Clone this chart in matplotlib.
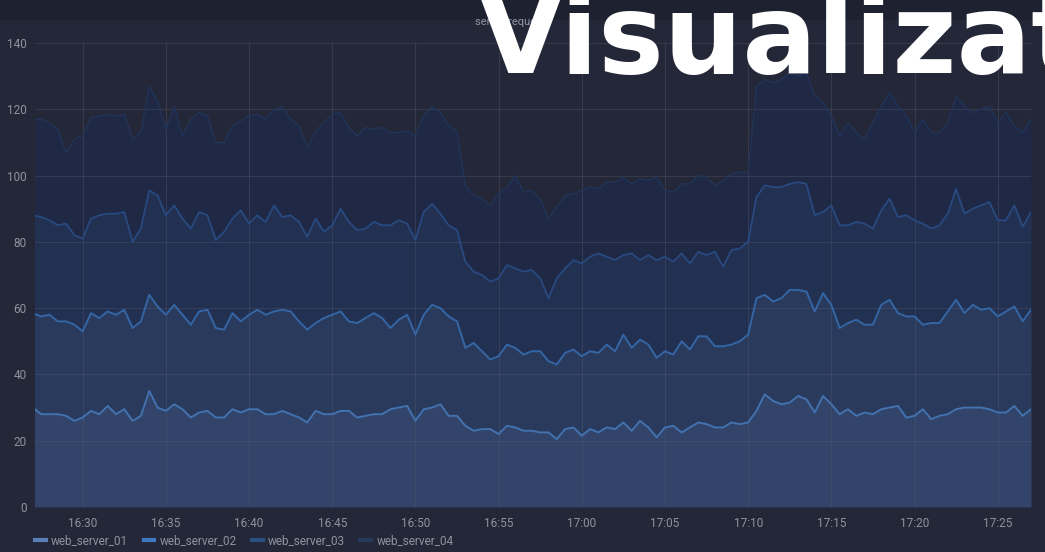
import numpy as np
import pandas as pd
import matplotlib
matplotlib.use("Agg")
import matplotlib.pyplot as plt
import matplotlib.dates as mdates
from matplotlib.lines import Line2D
from matplotlib.patches import Rectangle

# ---------------- data ----------------
series_names = ["web_server_01", "web_server_02", "web_server_03", "web_server_04"]
start_time = "2024-01-01 16:27:00"
sample_step = "30s"

web_server_01 = [
    30, 28, 28, 28, 27.5, 26, 27, 29, 28, 30.5, 28, 29.5, 26, 27.5, 35, 30, 29, 31, 29.5, 27,
    28.5, 29, 27, 27, 29.5, 28.5, 29.5, 29.5, 28, 28, 29, 28, 27, 25.5, 29, 28, 28, 29, 29, 27,
    27.5, 28, 28, 29.5, 30, 30.5, 26, 29.5, 30, 31, 27.5, 27.5, 24.5, 23, 23.5, 23.5, 22, 24.5, 24, 23,
    23,
    22.5, 22.5, 20.5, 23.5, 24, 21.5, 23.5, 22.5, 24, 23.5, 25.5, 23, 26, 24, 21, 24, 24.5, 22.5, 24, 25.5,
    25, 24, 24, 25.5, 25, 25.5, 29, 34, 32, 31, 31.5, 33.5, 32.5, 28.5, 33.5, 31, 28, 29.5, 27.5, 28.5,
    28, 29.5, 30, 30.5, 27, 27.5, 29.5, 26.5, 27.5, 28, 29.5, 30, 30, 30, 29.5, 28.5, 28.5, 30.5, 27.5, 29.5,
]
web_server_02 = [
    28.5, 29.5, 30, 28, 28.5, 29, 26, 29.5, 29, 28.5, 30, 30, 28, 28.5, 29, 30.5, 29, 30, 28.5, 28,
    30.5, 30.5, 27, 26.5, 29, 27.5, 28.5, 30, 30, 31, 30.5, 31, 29, 28, 26.5, 29, 30, 30, 27, 28.5,
    29.5, 30.5, 29, 24.5, 26.5, 27.5, 26, 28.5, 31, 29, 30, 28.5, 23.5, 26.5, 23.5, 21, 23.5, 24.5, 24, 23,
    24,
    24.5, 21.5, 22.5, 23, 23.5, 24, 23.5, 24, 25, 23.5, 26.5, 25, 24.5, 25, 24, 23, 21.5, 27.5, 23.5, 26,
    26.5, 24.5, 24.5, 23.5, 25, 26.5, 34, 30, 30, 32, 34, 32, 32.5, 30.5, 31, 30, 26, 26, 29, 26.5,
    27, 31.5, 32.5, 28, 30.5, 30, 25.5, 29, 28, 31, 33, 28.5, 31, 29.5, 30.5, 29, 30.5, 30, 28.5, 30,
]
web_server_03 = [
    29.5, 30, 28.5, 29, 29.5, 27, 28, 28.5, 31, 29.5, 30.5, 29.5, 26, 28, 31.5, 33.5, 30, 30, 29, 29,
    30, 28.5, 26.5, 29.5, 28.5, 33.5, 27.5, 28.5, 28, 32, 28, 29, 30, 28, 31.5, 26, 27, 31, 30, 28,
    27, 27.5, 28, 31, 30, 27.5, 28.5, 31, 30.5, 28.5, 27.5, 27.5, 26, 21.5, 23, 23.5, 23.5, 24, 24, 25,
    24.5,
    22, 19, 26, 25.5, 27, 28, 28.5, 30, 26.5, 27.5, 24, 28.5, 24, 27, 29.5, 28.5, 28, 26.5, 26, 25.5,
    24.5, 28.5, 24, 28.5, 28, 28, 30.5, 33, 34.5, 33.5, 32, 32.5, 32.5, 29, 24.5, 30, 31, 29.5, 29.5, 30.5,
    29, 28.5, 30.5, 29, 30.5, 29, 30.5, 28.5, 29.5, 29.5, 33.5, 30, 29, 31.5, 32, 29, 27.5, 30.5, 28.5, 29.5,
]
web_server_04 = [
    29, 29.5, 29.5, 29, 21.5, 29, 31, 30.5, 30, 30, 29.5, 29.5, 31, 29, 31.5, 28.5, 26, 30, 25, 33,
    30, 30, 29.5, 27, 28, 27, 32.5, 30.5, 31, 29, 33.5, 29, 29, 27, 26.5, 33, 33.5, 29, 28.5, 28.5,
    30.5, 28, 29.5, 28, 26.5, 28, 31.5, 29, 29.5, 30.5, 30, 30, 23, 23, 23, 23, 25.5, 23.5, 28, 24,
    24,
    24, 24, 21.5, 22, 20, 22, 21, 19.5, 22.5, 23.5, 23.5, 21, 24.5, 22.5, 25, 20, 21, 21, 24, 23,
    23.5, 20, 26, 23, 23, 21, 33.5, 32, 31.5, 32.5, 33.5, 32, 33.5, 36, 33, 27, 27, 31, 27, 25.5,
    32, 31.5, 32, 33.5, 30, 26.5, 31.5, 29, 28, 27.5, 28, 32.5, 29, 29, 29, 29.5, 32.5, 24, 28.5, 28,
]

y_ticks = [0, 20, 40, 60, 80, 100, 120, 140]
panel_title = "server requests"
overlay_text = "Visualizat"

# ---------------- style ----------------
fig_bg = "#242737"
header_bg = "#1e2130"
fill_colors = ["#33446a", "#2a3a5c", "#223052", "#1f2946"]
line_colors = ["#4272b0", "#3466a6", "#284a80", "#203458"]
line_widths = [1.4, 1.4, 1.3, 1.0]
legend_colors = ["#5a7fb6", "#3f78c0", "#2b4f80", "#27395c"]
text_color = "#8e93a0"
grid_color = "#5a6070"

plt.rcParams["font.family"] = ["Roboto", "DejaVu Sans"]

W, H = 1045, 552
fig = plt.figure(figsize=(W / 100, H / 100), dpi=100)
fig.patch.set_facecolor(fig_bg)

# darker header strip
fig.patches.append(Rectangle((0, 1 - 20 / H), 1, 20 / H, transform=fig.transFigure,
                             facecolor=header_bg, edgecolor="none", zorder=0))

left, right = 35 / W, 1031 / W
bottom, top = 1 - 507 / H, 1 - 43 / H
ax = fig.add_axes([left, bottom, right - left, top - bottom])
ax.set_facecolor(fig_bg)

times = pd.date_range(start_time, periods=len(web_server_01), freq=sample_step)
data = np.vstack([web_server_01, web_server_02, web_server_03, web_server_04])
stacked = np.cumsum(data, axis=0)

lower = np.zeros(len(times))
for k in range(4):
    ax.fill_between(times, lower, stacked[k], color=fill_colors[k], lw=0, zorder=1 + k * 0.01)
    lower = stacked[k]
for k in range(4):
    ax.plot(times, stacked[k], color=line_colors[k], lw=line_widths[k], zorder=3)

ax.set_ylim(0, 140)
ax.set_yticks(y_ticks)
ax.set_xlim(pd.Timestamp("2024-01-01 16:27:08"), pd.Timestamp("2024-01-01 17:27:00"))
ax.xaxis.set_major_locator(mdates.MinuteLocator(byminute=range(0, 60, 5)))
ax.xaxis.set_major_formatter(mdates.DateFormatter("%H:%M"))

ax.grid(True, color=grid_color, lw=0.8, alpha=0.33, zorder=4)
ax.set_axisbelow(False)
for s in ax.spines.values():
    s.set_visible(False)
ax.tick_params(axis="both", length=0, colors=text_color, labelsize=8.5)
ax.tick_params(axis="y", pad=6)
ax.tick_params(axis="x", pad=7)

# panel title
fig.text(513 / W, 1 - 22 / H, panel_title, color=text_color, fontsize=8,
         ha="center", va="center", zorder=5)

# legend
handles = [Line2D([0], [0], color=c, lw=3) for c in legend_colors]
fig.legend(handles, series_names, loc="lower left", bbox_to_anchor=(27 / W, -0.006),
           ncol=4, frameon=False, fontsize=8.5, labelcolor=text_color,
           handlelength=0.9, handletextpad=0.45, columnspacing=1.3,
           borderaxespad=0.3)

# big overlay text
fig.text(477 / W, 1 - 73 / H, overlay_text, color="white", fontsize=79.5,
         fontweight="bold", family="DejaVu Sans", ha="left", va="baseline", zorder=10)

fig.savefig("out.png", dpi=100, facecolor=fig.get_facecolor())
